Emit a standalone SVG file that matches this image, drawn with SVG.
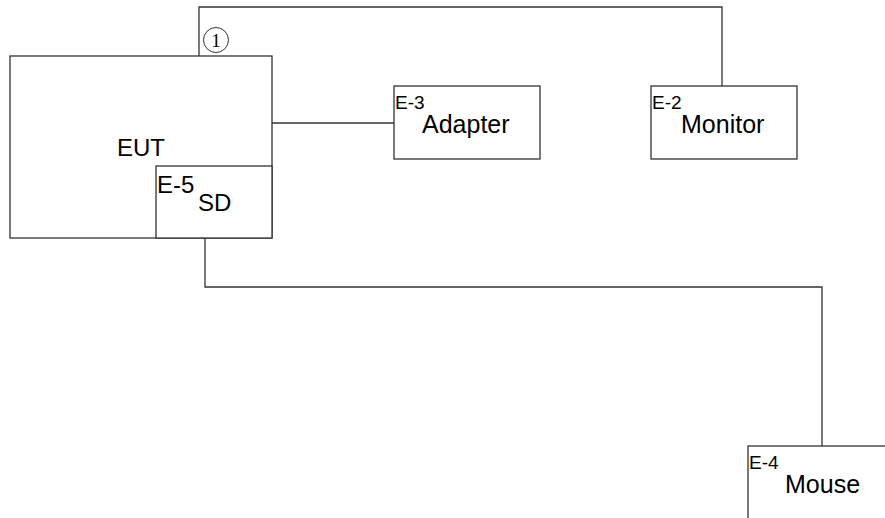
<svg xmlns="http://www.w3.org/2000/svg" width="885" height="518" viewBox="0 0 885 518">
<style>
.box{fill:#fff;stroke:#333;stroke-width:1.3}
.ln{fill:none;stroke:#333;stroke-width:1.3}
.t{font-family:"Liberation Sans",Arial,sans-serif;fill:#000}
.mid{font-size:24px}
.big{font-size:25px}
.small{font-size:19px}
</style>
<rect width="885" height="518" fill="#fff"/>
<g id="connectors">
<polyline class="ln" points="199,56 199,7 722,7 722,86"/>
<line class="ln" x1="272" y1="123" x2="394" y2="123"/>
<polyline class="ln" points="205,238 205,287 822,287 822,446"/>
</g>
<g id="eut">
<rect class="box" x="10" y="56" width="262" height="182"/>
<text class="t mid" x="141" y="156" text-anchor="middle">EUT</text>
</g>
<g id="label1">
<circle cx="216" cy="40" r="12.5" fill="none" stroke="#333" stroke-width="1"/>
<text x="216" y="47" font-size="19" text-anchor="middle" font-family="Liberation Serif,serif">1</text>
</g>
<g id="e5">
<rect class="box" x="156" y="166" width="116" height="72"/>
<text class="t mid" x="157" y="193">E-5</text>
<text class="t mid" x="198" y="211">SD</text>
</g>
<g id="e3">
<rect class="box" x="394" y="86" width="146" height="73"/>
<text class="t small" x="395" y="109">E-3</text>
<text class="t big" x="422" y="133">Adapter</text>
</g>
<g id="e2">
<rect class="box" x="651" y="86" width="146" height="73"/>
<text class="t small" x="652" y="109">E-2</text>
<text class="t big" x="681" y="133">Monitor</text>
</g>
<g id="e4">
<rect class="box" x="748" y="446" width="146" height="73"/>
<text class="t small" x="749" y="469">E-4</text>
<text class="t big" x="785" y="493">Mouse</text>
</g>
</svg>
